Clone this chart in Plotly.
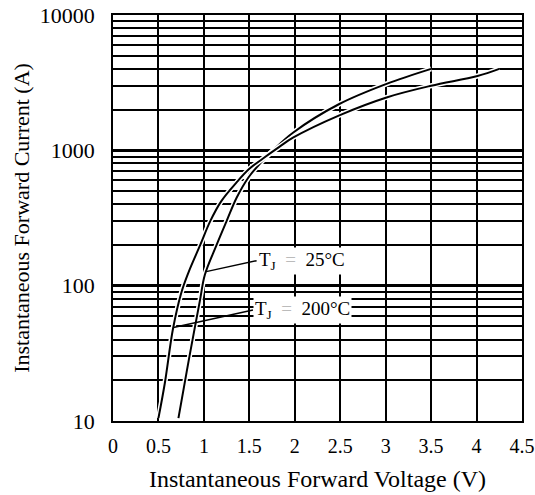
import math
import plotly.graph_objects as go

# ---- data ----
v_200 = [0.50, 0.57, 0.66, 0.75, 0.83, 0.96, 1.07, 1.19, 1.36, 1.50, 1.65, 1.83, 1.98, 2.49, 3.01, 3.50, 4.01, 4.25]
i_200 = [10.5, 19, 48, 88, 125, 200, 300, 420, 580, 730, 870, 1060, 1240, 1815, 2460, 3000, 3540, 4000]

v_25 = [0.72, 0.81, 0.90, 0.96, 1.01, 1.14, 1.25, 1.36, 1.49, 1.615, 1.76, 1.98, 2.49, 3.01, 3.50]
i_25 = [10.5, 23, 49, 80, 120, 200, 300, 446, 630, 796, 1000, 1350, 2200, 3100, 4000]

x_tickvals = [0, 0.5, 1, 1.5, 2, 2.5, 3, 3.5, 4, 4.5]
x_ticktext = ["0", "0.5", "1", "1.5", "2", "2.5", "3", "3.5", "4", "4.5"]
y_tickvals = [10, 100, 1000, 10000]
y_ticktext = ["10", "100", "1000", "10000"]

# label leaders: (point on curve) -> (label anchor)
lead_25_v = [1.025, 1.58]
lead_25_i = [127, 153]
lead_200_v = [0.665, 1.54]
lead_200_i = [49, 66]

FONT = "Liberation Serif"

fig = go.Figure()

for v, i in [(v_25, i_25), (v_200, i_200)]:
    fig.add_trace(go.Scatter(x=v, y=i, mode="lines", line=dict(color="white", width=5, shape="spline"),
                             hoverinfo="skip", showlegend=False))
    fig.add_trace(go.Scatter(x=v, y=i, mode="lines", line=dict(color="black", width=2, shape="spline"),
                             showlegend=False))

for v, i in [(lead_25_v, lead_25_i), (lead_200_v, lead_200_i)]:
    fig.add_trace(go.Scatter(x=v, y=i, mode="lines", line=dict(color="black", width=1.5),
                             hoverinfo="skip", showlegend=False))

eq = "<span style='color:#bbbbbb'>=</span>"
labels = [
    (lead_25_v[1], lead_25_i[1], "T<sub>J</sub>  " + eq + "  25°C"),
    (lead_200_v[1], lead_200_i[1], "T<sub>J</sub>  " + eq + "  200°C"),
]
for xv, yv, txt in labels:
    fig.add_annotation(x=xv, y=math.log10(yv), text=txt, showarrow=False, xanchor="left", yanchor="middle",
                       bgcolor="white", borderpad=1, font=dict(family=FONT, size=19, color="black"))

fig.update_xaxes(range=[0, 4.5], tickvals=x_tickvals, ticktext=x_ticktext, automargin=False,
                 ticklabeloverflow="allow",
                 showgrid=True, gridcolor="black", gridwidth=1.5,
                 showline=True, linecolor="black", linewidth=1.5, mirror=True,
                 ticks="", zeroline=False, ticklabelstandoff=6,
                 tickfont=dict(family=FONT, size=20, color="black"),
                 title=dict(text="Instantaneous Forward Voltage (V)", standoff=14,
                            font=dict(family=FONT, size=24, color="black")))
fig.update_yaxes(type="log", range=[1, 4], tickvals=y_tickvals, ticktext=y_ticktext, automargin=False,
                 ticklabeloverflow="allow",
                 showgrid=True, gridcolor="black", gridwidth=2.5,
                 minor=dict(showgrid=True, gridcolor="black", gridwidth=1.5, dtick="D1", ticks=""),
                 showline=True, linecolor="black", linewidth=1.5, mirror=True,
                 ticks="", zeroline=False, ticklabelstandoff=12,
                 tickfont=dict(family=FONT, size=22, color="black"),
                 title=dict(text="Instantaneous Forward Current (A)", standoff=4,
                            font=dict(family=FONT, size=22, color="black")))

fig.update_layout(width=535, height=495, margin=dict(l=113, r=13, t=15, b=74),
                  paper_bgcolor="white", plot_bgcolor="white", showlegend=False)

fig.write_html("out.html", config={"displayModeBar": False},
               post_script="document.body.style.margin='0px';document.body.style.overflow='hidden';")
